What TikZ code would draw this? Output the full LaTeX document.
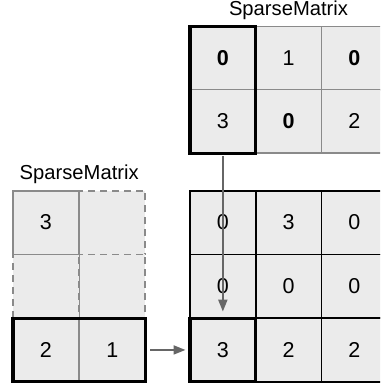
\documentclass[tikz,border=0pt]{standalone}
\usepackage{fontspec}
\setmainfont{Liberation Sans}
\usetikzlibrary{arrows.meta}
\definecolor{cellfill}{HTML}{EBEBEB}
\definecolor{gridgray}{HTML}{8A8A8A}
\definecolor{arrowgray}{HTML}{666666}
\tikzset{
  cell/.style={rectangle, fill=cellfill, minimum width=65.7pt, minimum height=63.7pt,
    inner sep=0pt, outer sep=0pt, font=\fontsize{21.5}{23}\selectfont},
  graycell/.style={cell, draw=gridgray, line width=1.8pt},
  dashcell/.style={cell, draw=gridgray, line width=1.8pt, dash pattern=on 7pt off 5pt},
  blackcell/.style={cell, draw=black, line width=1.6pt},
  highlight/.style={draw=black, line width=3.2pt},
  title/.style={font=\fontsize{20.2}{22}\selectfont, inner sep=0pt},
  link/.style={draw=arrowgray, line width=1.9pt, -{Triangle[length=12pt,width=9pt]}},
}
\begin{document}
\begin{tikzpicture}[x=1pt, y=-1pt]
\useasboundingbox (0,0) rectangle (380,387);
\clip (0,0) rectangle (380,387);

% upper sparse matrix, 2 x 3
\node[title] (ttitle) at (288.5,10.5) {SparseMatrix};
\node[graycell] (t11) at (222.85,58.35)  {\textbf{0}};
\node[graycell] (t12) at (288.55,58.35)  {1};
\node[graycell] (t13) at (354.25,58.35)  {\textbf{0}};
\node[graycell] (t21) at (222.85,121.35) {3};
\node[graycell] (t22) at (288.55,121.35) {\textbf{0}};
\node[graycell] (t23) at (354.25,121.35) {2};
\draw[highlight] (t11.north west) rectangle (t21.south east);

% left sparse matrix, 3 x 2
\node[title] (ltitle) at (79.2,174) {SparseMatrix};
\node[dashcell] (l12) at (112.35,222.55) {};
\node[dashcell] (l21) at (45.85,286.25)  {};
\node[dashcell] (l22) at (112.35,286.25) {};
\node[graycell] (l11) at (45.85,222.55)  {3};
\node[graycell] (l31) at (45.85,349.95)  {2};
\node[graycell] (l32) at (112.35,349.95) {1};
\draw[highlight] (l31.north west) rectangle (l32.south east);

% dense result, 3 x 3
\node[blackcell] (b11) at (222.85,222.55) {0};
\node[blackcell] (b12) at (288.55,222.55) {3};
\node[blackcell] (b13) at (354.25,222.55) {0};
\node[blackcell] (b21) at (222.85,286.25) {0};
\node[blackcell] (b22) at (288.55,286.25) {0};
\node[blackcell] (b23) at (354.25,286.25) {0};
\node[blackcell] (b31) at (222.85,349.95) {3};
\node[blackcell] (b32) at (288.55,349.95) {2};
\node[blackcell] (b33) at (354.25,349.95) {2};
\draw[highlight] (b31.north west) rectangle (b31.south east);

% connectors
\draw[link] ([yshift=-3pt]t21.south) -- ([yshift=6.5pt]b31.north);
\draw[link] ([xshift=5pt]l32.east) -- ([xshift=-4.5pt]b31.west);
\end{tikzpicture}
\end{document}
